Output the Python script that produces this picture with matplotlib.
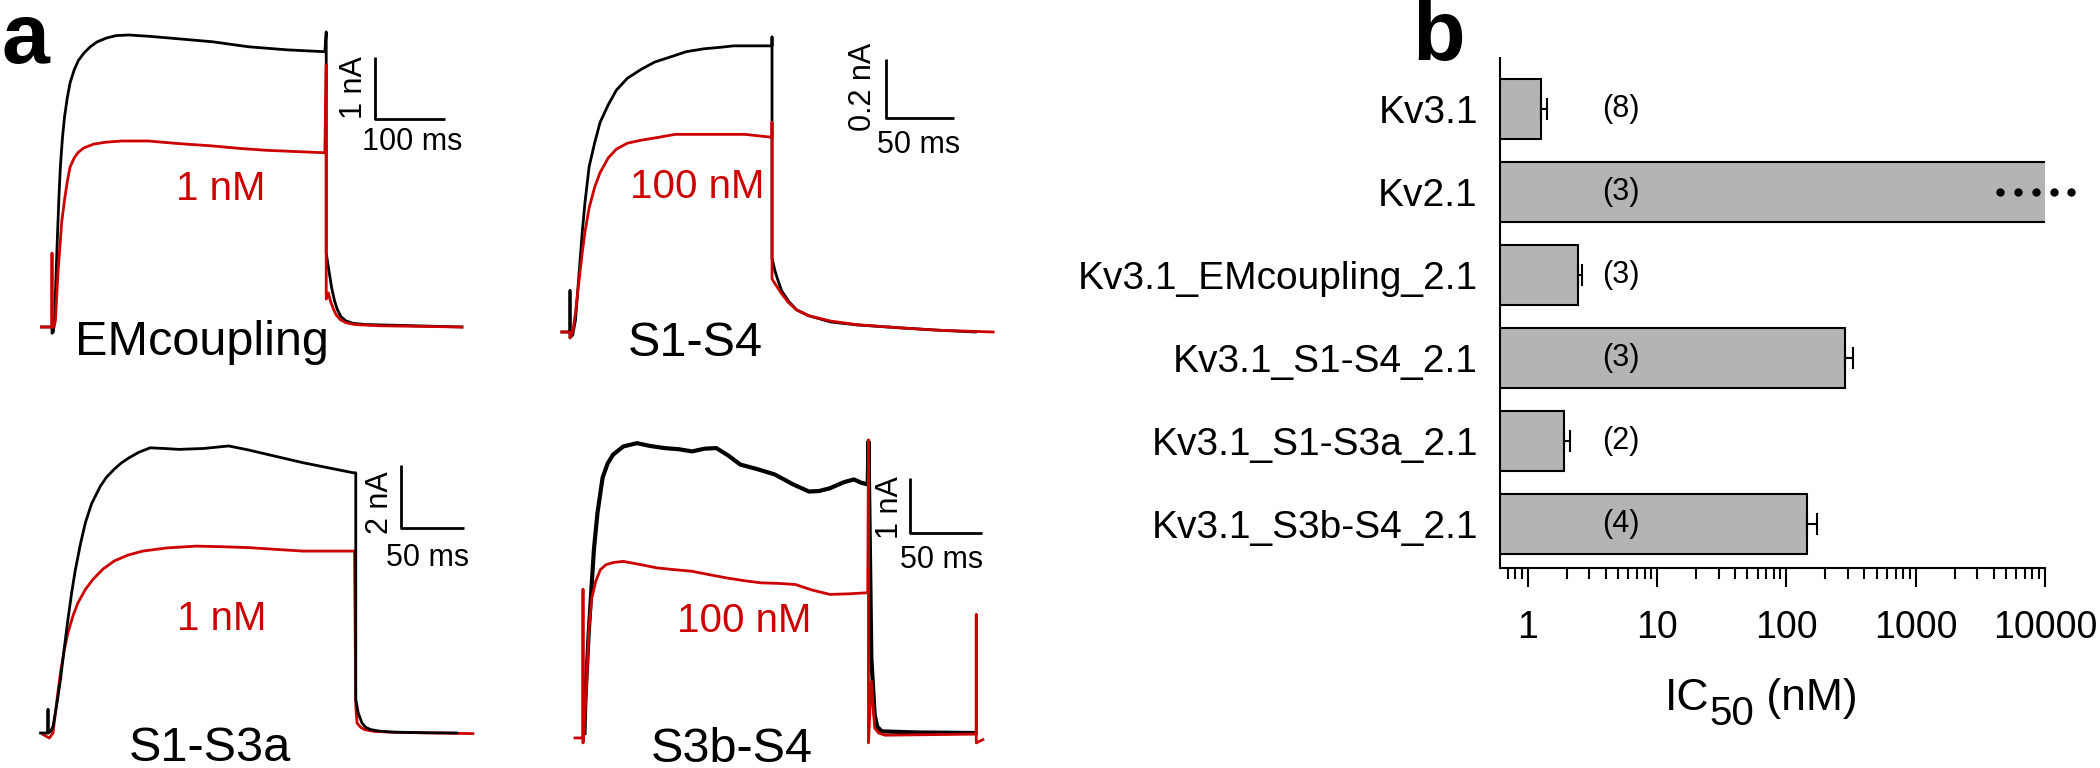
import numpy as np
import matplotlib
matplotlib.use('Agg')
import matplotlib.pyplot as plt
from matplotlib import font_manager
from matplotlib.ticker import LogLocator, NullFormatter

plt.rcParams['font.family'] = ['Liberation Sans', 'DejaVu Sans']

# ---------------- data: panel a, current traces (time in ms, current in nA) ----------------
# EMcoupling, control (black) and 1 nM toxin (red)
em_black_t = [-15, 0, 0, 2, 4, 6, 8, 10, 12, 15, 18, 22, 26, 32, 38, 46, 55, 65, 78, 92, 110, 138, 180, 231,
              282, 338, 392, 394, 394, 398, 402, 406, 410, 415, 422, 432, 450, 520, 589]
em_black_i = [0, 0, -0.1, -0.08, 0.2, 0.9, 1.52, 2.1, 2.58, 3.05, 3.39, 3.7, 3.94, 4.15, 4.3, 4.42, 4.52, 4.6,
              4.66, 4.7, 4.71, 4.69, 4.65, 4.6, 4.52, 4.47, 4.44, 4.76, 1.19, 0.9, 0.62, 0.42, 0.28, 0.17, 0.1,
              0.06, 0.04, 0.02, 0.0]
em_red_t = [-15, 0, 0, 0, 3, 5, 7, 9, 11, 14, 18, 22, 26, 32, 38, 46, 60, 77, 100, 138, 180, 231, 270, 308,
            350, 392, 394, 394, 397, 400, 404, 408, 414, 422, 435, 470, 589]
em_red_i = [0, 0, 1.19, 0, 0, 0.11, 0.55, 0.95, 1.24, 1.7, 2.05, 2.35, 2.58, 2.73, 2.82, 2.89, 2.95, 2.98,
            3.0, 3.0, 2.96, 2.92, 2.88, 2.85, 2.83, 2.81, 4.23, 0.45, 0.55, 0.42, 0.3, 0.2, 0.12, 0.07, 0.04,
            0.02, 0]

# S1-S4, control and 100 nM
s14_black_t = [-6, 0, 0, 0, 2, 4, 6, 9, 11, 14, 18, 22, 28, 34, 42, 52, 62, 72, 85, 98, 110, 120, 135, 148,
               148, 148, 150, 152, 155, 160, 166, 175, 191, 210, 242, 270, 297]
s14_black_i = [0, 0, 0.14, -0.02, -0.01, 0.04, 0.16, 0.34, 0.44, 0.56, 0.64, 0.71, 0.77, 0.82, 0.86, 0.89,
               0.915, 0.93, 0.95, 0.96, 0.965, 0.97, 0.97, 0.97, 1.0, 0.25, 0.21, 0.18, 0.14, 0.105, 0.075,
               0.055, 0.034, 0.024, 0.014, 0.006, 0]
s14_red_t = [-6, 0, 0, 2, 4, 6, 9, 11, 14, 18, 22, 28, 34, 42, 52, 65, 77, 102, 128, 148, 148, 148, 150, 155,
             160, 166, 175, 191, 210, 242, 270, 310]
s14_red_i = [0, 0, -0.02, 0.0, 0.064, 0.15, 0.27, 0.34, 0.42, 0.49, 0.54, 0.59, 0.62, 0.64, 0.65, 0.66, 0.67,
             0.67, 0.67, 0.66, 0.71, 0.18, 0.165, 0.13, 0.1, 0.075, 0.055, 0.037, 0.025, 0.014, 0.006, 0]

# S1-S3a, control and 1 nM
s13_black_t = [-6, 0, 0, 0, 2, 4, 7, 10, 13, 16, 19, 22, 26, 30, 35, 42, 47, 53, 59, 65, 73, 82, 93, 105, 125,
               145, 160, 176, 190, 205, 225, 245, 247, 247, 249, 252, 255, 259, 266, 276, 300, 328]
s13_black_i = [0, 0, 0.75, 0, 0.05, 0.21, 0.9, 1.71, 2.7, 3.64, 4.5, 5.24, 6.05, 6.74, 7.35, 7.91, 8.2, 8.45,
               8.66, 8.82, 9.0, 9.14, 9.12, 9.09, 9.12, 9.2, 9.08, 8.93, 8.8, 8.66, 8.5, 8.34, 8.34, 1.07, 0.64,
               0.32, 0.18, 0.11, 0.06, 0.03, 0.01, 0]
s13_red_t = [-4, 1, 4, 7, 10, 13, 16, 20, 24, 30, 36, 44, 53, 64, 76, 95, 119, 140, 162, 185, 205, 225, 246,
             247, 248, 251, 254, 262, 280, 341]
s13_red_i = [-0.05, -0.16, 0, 1.0, 1.93, 2.65, 3.21, 3.75, 4.17, 4.6, 4.92, 5.25, 5.51, 5.7, 5.83, 5.93, 5.99,
             5.97, 5.94, 5.88, 5.83, 5.83, 5.83, 0.9, 0.32, 0.18, 0.11, 0.05, 0.02, -0.02]

# S3b-S4, control and 100 nM
s3b_black_t = [1, 1.7, 4, 6, 7.6, 10, 13.5, 17, 20.7, 27.8, 37.3, 46, 56.3, 66, 75.3, 84, 92, 100, 108.6, 120,
               132.4, 145, 156, 163, 170.4, 180, 187, 192, 196.5, 197, 199, 201.3, 203, 206, 230, 270]
s3b_black_i = [0, 0.64, 1.85, 2.7, 3.36, 4.0, 4.64, 4.9, 5.06, 5.21, 5.27, 5.22, 5.18, 5.16, 5.12, 5.17, 5.18,
               5.05, 4.88, 4.8, 4.7, 4.52, 4.39, 4.4, 4.45, 4.56, 4.61, 4.55, 4.52, 5.3, 1.36, 0.33, 0.12, 0.03,
               0.01, 0]
s3b_red_t = [-5.5, 0, 0, 0, 0.7, 2.5, 4, 6, 8.8, 12, 15.9, 21, 27.8, 40, 51.6, 63, 75.3, 87, 99, 111, 122.9,
             135, 146.6, 158, 170.4, 183, 196.5, 197, 197, 199, 201.3, 204, 208.4, 240, 271.4, 271.4, 271.4, 276]
s3b_red_i = [-0.09, -0.09, 2.61, -0.18, 0, 0.9, 1.85, 2.45, 2.76, 2.97, 3.06, 3.1, 3.12, 3.06, 3.0, 2.97, 2.94,
             2.88, 2.82, 2.77, 2.73, 2.72, 2.7, 2.6, 2.52, 2.53, 2.55, 5.33, -0.18, 0.94, 0.09, 0.0, -0.04,
             -0.03, -0.02, 2.15, -0.18, -0.12]

trace_names = ['EMcoupling', 'S1-S4', 'S1-S3a', 'S3b-S4']
trace_conc = ['1 nM', '100 nM', '1 nM', '100 nM']
# scale bars: (ms, nA)
bar_ms = [100, 50, 50, 50]
bar_na = [1, 0.2, 2, 1]
bar_ms_label = ['100 ms', '50 ms', '50 ms', '50 ms']
bar_na_label = ['1 nA', '0.2 nA', '2 nA', '1 nA']

# ---------------- data: panel b, IC50 ----------------
channels = ['Kv3.1', 'Kv2.1', 'Kv3.1_EMcoupling_2.1', 'Kv3.1_S1-S4_2.1',
            'Kv3.1_S1-S3a_2.1', 'Kv3.1_S3b-S4_2.1']
ic50 = [1.26, 20000, 2.45, 286, 1.91, 144]      # Kv2.1 is off scale
ic50_sem = [0.14, np.nan, 0.2, 39, 0.23, 29]
n_cells = [8, 3, 3, 3, 2, 4]
xtick_vals = [1, 10, 100, 1000, 10000]
xtick_labels = ['1', '10', '100', '1000', '10000']
kv21_dots = [4500, 6200, 8500, 11700, 16000]

# ---------------- figure ----------------
W, H = 2100, 768
fig = plt.figure(figsize=(21, 7.68), dpi=100)
RED = '#cc0000'
GREY = '#b4b4b4'


def px_axes(x0, sx, y0, sy, box):
    # x0, y0: pixel of t=0 / I=0; sx, sy: pixels per ms / per nA
    left, top, right, bottom = box
    ax = fig.add_axes([left / W, 1 - bottom / H, (right - left) / W, (bottom - top) / H])
    ax.set_xlim((left - x0) / sx, (right - x0) / sx)
    ax.set_ylim((y0 - bottom) / sy, (y0 - top) / sy)
    ax.axis('off')
    return ax


# placement of each trace panel (pixel origin and scale)
panel_map = [
    (52, 0.696, 327, 62, (0, 0, 520, 384)),
    (570, 1.365, 332, 295, (525, 0, 1050, 384)),
    (48, 1.246, 733, 31.2, (0, 384, 520, 768)),
    (583, 1.449, 733, 55, (525, 384, 1050, 768)),
]
traces = [
    (em_black_t, em_black_i, em_red_t, em_red_i),
    (s14_black_t, s14_black_i, s14_red_t, s14_red_i),
    (s13_black_t, s13_black_i, s13_red_t, s13_red_i),
    (s3b_black_t, s3b_black_i, s3b_red_t, s3b_red_i),
]
# text / scale bar anchors in data units (ms, nA)
conc_xy = [(242, 2.22), (93, 0.49), (139.5, 3.64), (111, 2.03)]
name_xy = [(215, -0.45), (92, -0.08), (130, -0.9), (102.7, -0.52)]
sbar_xy = [(464, 3.36), (231.6, 0.727), (283.7, 6.58), (225.5, 3.64)]
sbar_na_xy = [(434, 3.86), (215, 0.83), (266.5, 7.38), (212, 4.09)]
sbar_ms_xy = [(518, 2.99), (255.5, 0.633), (305, 5.61), (247.6, 3.15)]
black_lw = [2.0, 2.0, 2.0, 3.0]
red_on_top = [True, True, False, True]

for k in range(4):
    ax = px_axes(*panel_map[k])
    bt, bi, rt, ri = traces[k]
    zb, zr = (2, 3) if red_on_top[k] else (3, 2)
    ax.plot(bt, bi, color='k', lw=black_lw[k], zorder=zb, solid_joinstyle='round')
    ax.plot(rt, ri, color=RED, lw=2.0, zorder=zr, solid_joinstyle='round')
    # scale bar
    t0, i0 = sbar_xy[k]
    ax.plot([t0, t0, t0 + bar_ms[k]], [i0 + bar_na[k], i0, i0], color='k', lw=2.0,
            solid_capstyle='butt')
    ax.text(*sbar_na_xy[k], bar_na_label[k], rotation=90, ha='center', va='center', fontsize=22)
    ax.text(*sbar_ms_xy[k], bar_ms_label[k], ha='center', va='center', fontsize=22)
    ax.text(*conc_xy[k], trace_conc[k], ha='center', va='center', fontsize=29, color=RED)
    ax.text(*name_xy[k], trace_names[k], ha='center', va='baseline', fontsize=35)

# ---------------- panel b ----------------
names = [f.name for f in font_manager.fontManager.ttflist]
if 'Liberation Sans Narrow' in names:
    tick_family, tick_fs = 'Liberation Sans Narrow', 35
else:
    tick_family, tick_fs = 'Liberation Sans', 27

axb = fig.add_axes([1500 / W, 1 - 568 / H, 545 / W, 510 / H])
ypos = np.arange(len(channels))
axb.barh(ypos, ic50, height=0.72, color=GREY, edgecolor='k', linewidth=1.5, zorder=2)
sem = np.array(ic50_sem)
ok = ~np.isnan(sem)
axb.errorbar(np.array(ic50)[ok], ypos[ok], xerr=[np.zeros(ok.sum()), sem[ok]], fmt='none',
             ecolor='k', elinewidth=1.5, capsize=8, capthick=1.5, zorder=3)
for y, n in zip(ypos, n_cells):
    axb.text(5.25, y, f'({n})', ha='center', va='center', fontsize=22, zorder=4)
axb.plot(kv21_dots, [1] * len(kv21_dots), 'o', color='k', ms=5, clip_on=False, zorder=4)

axb.set_xscale('log')
axb.set_xlim(0.61, 1e4)
axb.set_ylim(5.53, -0.614)
axb.set_xticks(xtick_vals)
axb.set_xticklabels(xtick_labels, fontsize=tick_fs, fontfamily=tick_family)
axb.xaxis.set_minor_locator(LogLocator(base=10, subs=np.arange(2, 10), numticks=30))
axb.xaxis.set_minor_formatter(NullFormatter())
axb.tick_params(axis='x', which='major', length=14, width=1.5, pad=16, direction='out')
axb.tick_params(axis='x', which='minor', length=8, width=1.5, direction='out')
axb.set_yticks(ypos)
axb.set_yticklabels(channels, fontsize=28)
axb.tick_params(axis='y', length=0, pad=16)
for s in ['top', 'right']:
    axb.spines[s].set_visible(False)
for s in ['left', 'bottom']:
    axb.spines[s].set_linewidth(1.5)

# x label: IC50 (nM) with a lowered "50"
fig.text(1665 / W, 1 - 710 / H, 'IC', fontsize=32, va='baseline', ha='left')
fig.text(1709 / W, 1 - 725 / H, '50', fontsize=29, va='baseline', ha='left')
fig.text(1754 / W, 1 - 710 / H, ' (nM)', fontsize=32, va='baseline', ha='left')

# panel letters
fig.text(2 / W, 1 - 63 / H, 'a', fontsize=62, fontweight='bold', va='baseline', ha='left')
fig.text(1412 / W, 1 - 60 / H, 'b', fontsize=62, fontweight='bold', va='baseline', ha='left')

fig.savefig('out.png', dpi=100)
